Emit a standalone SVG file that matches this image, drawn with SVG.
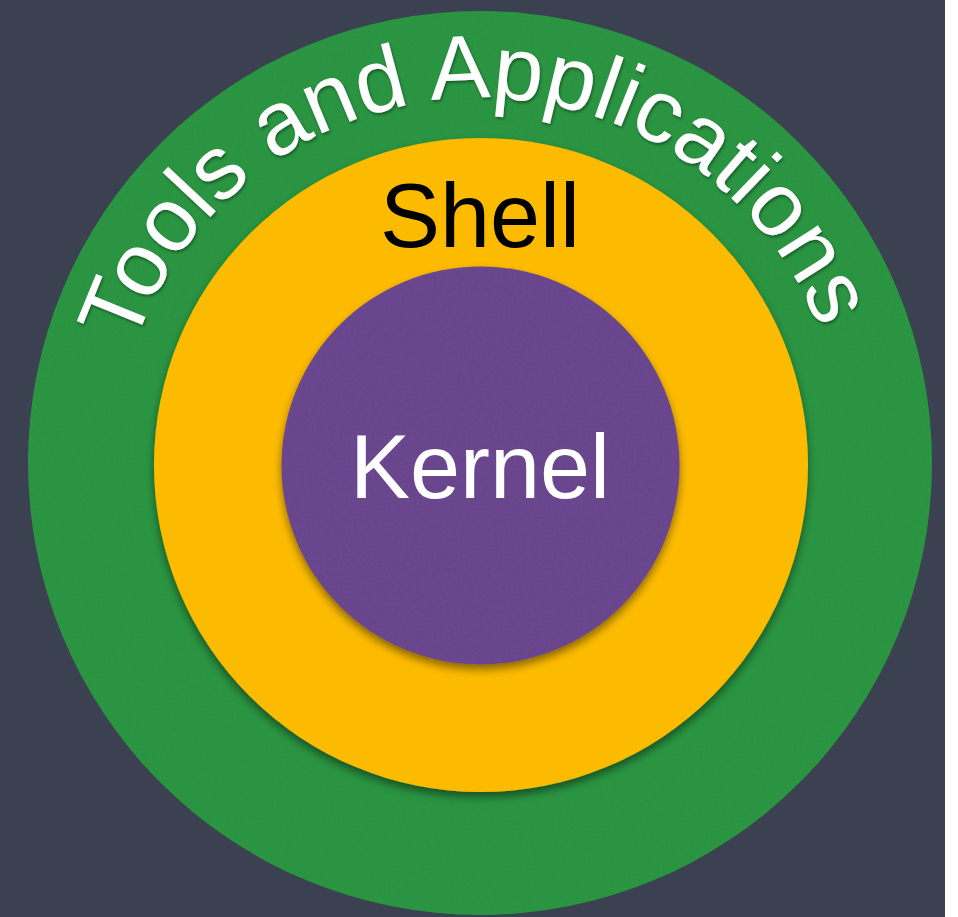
<svg xmlns="http://www.w3.org/2000/svg" width="958" height="917" viewBox="0 0 958 917">
<defs>
<style>
.lbl{font-family:"Liberation Sans",Arial,Helvetica,sans-serif;font-size:90px}
</style>
<filter id="sh" x="-10%" y="-10%" width="120%" height="125%">
<feDropShadow dx="0" dy="5" stdDeviation="4" flood-color="#000" flood-opacity="0.45"/>
</filter>
<filter id="tsh" x="-10%" y="-10%" width="120%" height="120%">
<feDropShadow dx="1" dy="2" stdDeviation="1.5" flood-color="#000" flood-opacity="0.4"/>
</filter>
<filter id="felt" x="0" y="0" width="100%" height="100%">
<feTurbulence type="fractalNoise" baseFrequency="0.35" numOctaves="3" seed="4" result="n"/>
<feColorMatrix in="n" type="matrix" values="0 0 0 0 0  0 0 0 0 0  0 0 0 0 0  0 0 0 0.12 0" result="dark"/>
<feComposite in="dark" in2="SourceGraphic" operator="in" result="dk"/>
<feMerge><feMergeNode in="SourceGraphic"/><feMergeNode in="dk"/></feMerge>
</filter>
<path id="arc" d="M 115,463 A 365 365 0 0 1 845,463"/>
</defs>
<rect x="0" y="0" width="958" height="917" fill="#ffffff"/>
<rect x="0" y="0" width="945" height="917" fill="#3b4150"/>
<g id="tools">
<circle cx="480" cy="463" r="452" fill="#2e9944" filter="url(#felt)"/>
<text class="lbl" fill="#ffffff" filter="url(#tsh)"><textPath href="#arc" startOffset="49.2%" text-anchor="middle">Tools and Applications</textPath></text>
</g>
<g id="shell">
<circle cx="481" cy="465" r="327" fill="#fdbb00" filter="url(#sh)"/>
<text class="lbl" x="480" y="247" fill="#000000" text-anchor="middle">Shell</text>
</g>
<g id="kernel">
<g filter="url(#sh)"><circle cx="480.5" cy="465.5" r="199" fill="#6d4a92" filter="url(#felt)"/></g>
<text class="lbl" x="480" y="498" fill="#ffffff" text-anchor="middle">Kernel</text>
</g>
<g id="connectors"/>
</svg>
